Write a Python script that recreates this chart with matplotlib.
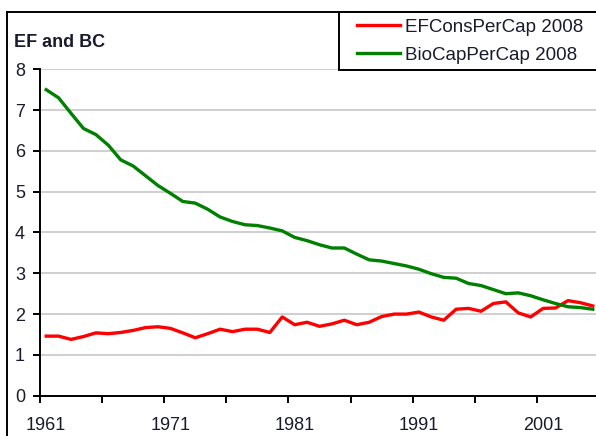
import matplotlib
matplotlib.use("Agg")
import matplotlib.pyplot as plt
from matplotlib.lines import Line2D
from matplotlib.patches import Rectangle

years = list(range(1961, 2006))
ef_cons = [1.46, 1.46, 1.38, 1.45, 1.54, 1.52, 1.55, 1.60, 1.67, 1.69,
           1.65, 1.54, 1.42, 1.52, 1.63, 1.57, 1.63, 1.63, 1.55, 1.93,
           1.74, 1.80, 1.70, 1.76, 1.85, 1.74, 1.80, 1.94, 2.00, 2.00,
           2.05, 1.93, 1.85, 2.12, 2.14, 2.07, 2.26, 2.30, 2.03, 1.93,
           2.14, 2.15, 2.33, 2.28, 2.20]
bio_cap = [7.50, 7.30, 6.92, 6.55, 6.40, 6.14, 5.78, 5.63, 5.39, 5.15,
           4.96, 4.76, 4.72, 4.57, 4.38, 4.27, 4.19, 4.17, 4.11, 4.04,
           3.88, 3.80, 3.70, 3.62, 3.62, 3.47, 3.33, 3.30, 3.24, 3.18,
           3.10, 2.99, 2.90, 2.88, 2.75, 2.70, 2.60, 2.50, 2.52, 2.45,
           2.35, 2.26, 2.18, 2.16, 2.12]
series_labels = ["EFConsPerCap 2008", "BioCapPerCap 2008"]
x_labels = ["1961", "1971", "1981", "1991", "2001"]
y_ticks = [0, 1, 2, 3, 4, 5, 6, 7, 8]

plt.rcParams['font.family'] = ['Liberation Sans', 'DejaVu Sans']

W, H = 596, 436
fig = plt.figure(figsize=(W / 100, H / 100), dpi=100)

def fx(px):
    return px / W

def fy(py):
    return 1 - py / H

ax = fig.add_axes([fx(40), fy(395.7), fx(599) - fx(40), fy(69.3) - fy(395.7)])
ax.set_facecolor('none')

l1, = ax.plot(years, ef_cons, color='#ff0000', lw=2.4, solid_joinstyle='round', zorder=3)
l2, = ax.plot(years, bio_cap, color='#008000', lw=2.4, solid_joinstyle='round', zorder=4)

ax.set_xlim(years[0] - 0.5, years[-1] + 0.5)
ax.set_ylim(y_ticks[0], y_ticks[-1])

# major ticks at category boundaries (every 5), labels at category centers
ax.set_xticks([years[0] - 0.5 + 5 * k for k in range(10)])
ax.set_xticklabels([])
ax.set_xticks([int(s) for s in x_labels], minor=True)
ax.set_xticklabels(x_labels, minor=True)
ax.tick_params(axis='x', which='major', length=7 * 0.72, width=1.4, color='black', direction='out')
ax.tick_params(axis='x', which='minor', length=0, pad=15.5, labelsize=13, labelcolor='#1a1a2e')

ax.set_yticks(y_ticks)
ax.tick_params(axis='y', length=7 * 0.72, width=1.4, pad=5.8, labelsize=13, labelcolor='#1a1a2e')

ax.grid(axis='y', color='#cccccc', lw=1.3, zorder=0)
ax.set_axisbelow(True)
for s in ['top', 'right']:
    ax.spines[s].set_visible(False)
for s in ['left', 'bottom']:
    ax.spines[s].set_linewidth(1.4)
    ax.spines[s].set_color('black')

# y-axis title
fig.text(fx(14), fy(47), "EF and BC", fontsize=13, fontweight='bold', ha='left', va='baseline', color='#1a1a2e')

# chart border
fig.add_artist(Line2D([fx(7.5), fx(7.5)], [fy(12.5), fy(440)], color='black', lw=1.4, transform=fig.transFigure))
fig.add_artist(Line2D([fx(7), fx(600)], [fy(12.5), fy(12.5)], color='black', lw=1.4, transform=fig.transFigure))

# legend frame with shadow
fig.add_artist(Rectangle((fx(340), fy(71.5)), fx(300), fy(15) - fy(71.5), transform=fig.transFigure,
                         facecolor='#777777', edgecolor='none', zorder=5))
fig.add_artist(Rectangle((fx(338.5), fy(70)), fx(300), fy(12.5) - fy(70), transform=fig.transFigure,
                         facecolor='white', edgecolor='black', lw=1.4, zorder=6))

leg = fig.legend([l1, l2], series_labels, loc='upper left',
                 bbox_to_anchor=(fx(357), fy(18.5)), bbox_transform=fig.transFigure,
                 frameon=False, fontsize=13.5, borderpad=0, borderaxespad=0,
                 handlelength=2.3, handletextpad=0.28, labelspacing=0.6)
leg.set_zorder(7)
for t in leg.get_texts():
    t.set_color('#1a1a2e')

fig.savefig("out.png", dpi=100)
